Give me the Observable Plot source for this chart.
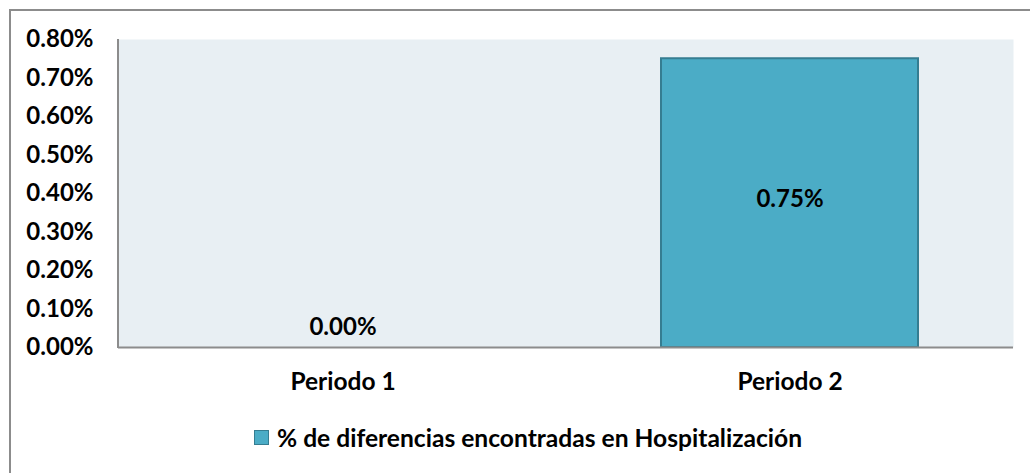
<!DOCTYPE html>
<html>
<head>
<meta charset="utf-8">
<script src="https://cdn.jsdelivr.net/npm/d3@7"></script>
<script src="https://cdn.jsdelivr.net/npm/@observablehq/plot@0.6"></script>
<style>
  html, body { margin: 0; padding: 0; background: #fff; }
  #wrap { position: relative; width: 1030px; height: 473px; overflow: hidden; font-family: Lato, "Open Sans", sans-serif; }
  #border { position: absolute; left: 9px; top: 9px; width: 1040px; height: 480px; border-left: 2px solid #8c8c8c; border-top: 2px solid #8c8c8c; box-sizing: border-box; }
  #chart { position: absolute; left: 0; top: 0; }
  #legend { position: absolute; left: 254px; top: 423px; height: 28px; display: flex; align-items: center; font-weight: bold; font-size: 24.6px; color: #000; white-space: nowrap; }
  #legend .sw { width: 13px; height: 13px; background: #4bacc6; border: 1px solid #357d91; margin-right: 8px; flex: none; }
</style>
</head>
<body>
<div id="wrap">
  <div id="border"></div>
  <div id="chart"></div>
  <div id="legend"><span class="sw"></span><span id="legtext"></span></div>
</div>
<script>
const categories = ["Periodo 1", "Periodo 2"];
const values = [0.0, 0.0075];
const valueLabels = ["0.00%", "0.75%"];
const yTicks = [0, 0.001, 0.002, 0.003, 0.004, 0.005, 0.006, 0.007, 0.008];
const seriesName = "% de diferencias encontradas en Hospitalización";

const data = categories.map((c, i) => ({cat: c, v: values[i], label: valueLabels[i]}));

const font = "Lato, 'Open Sans', sans-serif";
const plot = Plot.plot({
  width: 1030,
  height: 410,
  marginLeft: 118,
  marginRight: 17,
  marginTop: 39,
  marginBottom: 63,
  style: {fontFamily: font, fontSize: "24px", fontWeight: "bold", color: "#000", background: "transparent"},
  x: {domain: categories, paddingInner: 0.426, paddingOuter: 0.213, label: null},
  y: {domain: [0, 0.008], label: null},
  marks: [
    Plot.frame({fill: "#e8eff3", stroke: null}),
    Plot.axisY({ticks: yTicks, tickFormat: d => (d * 100).toFixed(2) + "%", tickSize: 0, tickPadding: 25, fontWeight: "bold", fontSize: 24}),
    Plot.axisX({tickSize: 0, tickPadding: 25, fontWeight: "bold", fontSize: 24.5}),
    Plot.barY(data, {x: "cat", y: "v", fill: "#4bacc6", stroke: "#357d91", strokeWidth: 2}),
    Plot.ruleY([0], {stroke: "#8c8c8c", strokeWidth: 2}),
    Plot.text(data, {x: "cat", y: d => d.v / 2, text: "label", dy: -4, fontWeight: "bold", fontSize: 24, fill: "#000",
      filter: d => d.v > 0}),
    Plot.text(data, {x: "cat", y: "v", text: "label", dy: -20, fontWeight: "bold", fontSize: 24, fill: "#000",
      filter: d => d.v === 0})
  ]
});
document.getElementById("chart").appendChild(plot);
document.getElementById("legtext").textContent = seriesName;

// left axis line along the plot's left edge, from the y scale's range
const ys = plot.scale("y");
const svg = d3.select(plot);
svg.append("line").attr("x1", 118).attr("x2", 118)
  .attr("y1", ys.range[1]).attr("y2", ys.range[0] + 1)
  .attr("stroke", "#8c8c8c").attr("stroke-width", 2);
</script>
</body>
</html>
